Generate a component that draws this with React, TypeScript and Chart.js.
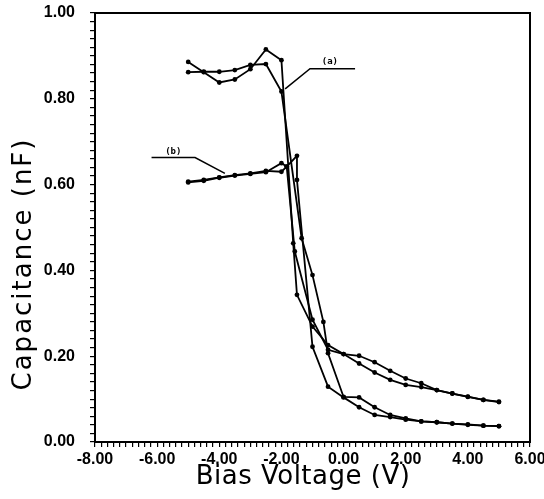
import React, { useEffect, useRef } from 'react';
import { Chart, registerables } from 'chart.js';
Chart.register(...registerables);

// Curve (a), two sweeps
const xA1 = [-5, -4.5, -4, -3.5, -3, -2.5, -2, -1.62, -1.5, -1, -0.5, 0, 0.5, 1, 1.5, 2, 2.5, 3, 3.5, 4, 4.5, 5];
const yA1 = [0.886, 0.862, 0.838, 0.845, 0.869, 0.915, 0.890, 0.463, 0.343, 0.269, 0.226, 0.205, 0.201, 0.186, 0.166, 0.148, 0.137, 0.121, 0.113, 0.106, 0.098, 0.093];
const xA2 = [-5, -4.5, -4, -3.5, -3, -2.5, -2, -1.35, -1, -0.65, -0.5, 0, 0.5, 1, 1.5, 2, 2.5, 3, 3.5, 4, 4.5, 5];
const yA2 = [0.862, 0.863, 0.863, 0.867, 0.879, 0.881, 0.817, 0.475, 0.389, 0.280, 0.207, 0.105, 0.104, 0.081, 0.063, 0.055, 0.048, 0.046, 0.043, 0.041, 0.038, 0.037];
// Curve (b), two sweeps
const xB1 = [-5, -4.5, -4, -3.5, -3, -2.5, -2, -1.83, -1.57, -1, -0.5, 0, 0.5, 1, 1.5, 2, 2.5, 3, 3.5, 4, 4.5, 5];
const yB1 = [0.605, 0.609, 0.616, 0.621, 0.625, 0.629, 0.650, 0.642, 0.444, 0.285, 0.215, 0.205, 0.183, 0.162, 0.145, 0.133, 0.128, 0.121, 0.113, 0.105, 0.098, 0.094];
const xB2 = [-5, -4.5, -4, -3.5, -3, -2.5, -2, -1.83, -1.5, -1.5, -1, -0.5, 0, 0.5, 1, 1.5, 2, 2.5, 3, 3.5, 4, 4.5, 5];
const yB2 = [0.607, 0.611, 0.617, 0.622, 0.626, 0.632, 0.630, 0.642, 0.667, 0.611, 0.222, 0.129, 0.104, 0.081, 0.063, 0.058, 0.052, 0.048, 0.046, 0.043, 0.040, 0.038, 0.037];

// Annotation leaders and labels
const leadAX = [0.37, -1.08, -1.88];
const leadAY = [0.870, 0.870, 0.823];
const leadBX = [-6.18, -4.78, -3.82];
const leadBY = [0.663, 0.663, 0.626];
const annTexts = ['(a)', '(b)'];
const annX = [-0.44, -5.48];
const annY = [0.886, 0.677];

const xTitle = 'Bias Voltage (V)';
const yTitle = 'Capacitance (nF)';

const xMin = -8, xMax = 6, xMinorStep = 0.2, xMajorStep = 2;
const yMin = 0, yMax = 1, yMinorStep = 0.02, yMajorStep = 0.2;

const isMultiple = (v: number, step: number) => Math.abs(v / step - Math.round(v / step)) < 1e-6;

export default function App() {
  const ref = useRef<HTMLCanvasElement>(null);
  useEffect(() => {
    document.body.style.margin = '0';
    const canvas = ref.current!;
    const toPts = (xs: number[], ys: number[]) => xs.map((x, i) => ({ x, y: ys[i] }));
    const curve = (label: string, xs: number[], ys: number[]) => ({
      label, data: toPts(xs, ys), showLine: true, borderColor: '#000', backgroundColor: '#000',
      borderWidth: 1.8, pointRadius: 2.4, pointHoverRadius: 2.4, pointBorderWidth: 0, tension: 0,
    });
    const leader = (label: string, xs: number[], ys: number[]) => ({
      label, data: toPts(xs, ys), showLine: true, borderColor: '#000', backgroundColor: '#000',
      borderWidth: 1.5, pointRadius: 0, pointHoverRadius: 0, tension: 0,
    });
    const framePlugin = {
      id: 'frame',
      afterDraw(chart: any) {
        const { ctx, chartArea: a } = chart;
        ctx.save();
        ctx.strokeStyle = '#000';
        ctx.lineWidth = 2;
        ctx.strokeRect(a.left, a.top, a.right - a.left, a.bottom - a.top);
        // axis titles
        ctx.fillStyle = '#000';
        ctx.font = '26px "DejaVu Sans", sans-serif';
        ctx.textAlign = 'center';
        ctx.textBaseline = 'middle';
        (ctx as any).letterSpacing = '0.5px';
        ctx.fillText(xTitle, 303, 477);
        (ctx as any).letterSpacing = '2px';
        ctx.translate(24, 264);
        ctx.rotate(-Math.PI / 2);
        ctx.fillText(yTitle, 0, 0);
        ctx.restore();
      },
    };
    const labelPlugin = {
      id: 'annLabels',
      afterDatasetsDraw(chart: any) {
        const { ctx } = chart;
        const xs = chart.scales.x, ys = chart.scales.y;
        ctx.save();
        ctx.fillStyle = '#000';
        ctx.font = 'bold 9px "DejaVu Sans Mono"';
        ctx.textAlign = 'center';
        ctx.textBaseline = 'middle';
        annTexts.forEach((t, i) => ctx.fillText(t, xs.getPixelForValue(annX[i]), ys.getPixelForValue(annY[i])));
        ctx.restore();
      },
    };
    const tickFont = { family: '"Liberation Sans", Arial, sans-serif', size: 16, weight: 'bold' as const };
    const chart = new Chart(canvas, {
      type: 'scatter',
      data: {
        datasets: [
          curve('(a) sweep 1', xA1, yA1),
          curve('(a) sweep 2', xA2, yA2),
          curve('(b) sweep 1', xB1, yB1),
          curve('(b) sweep 2', xB2, yB2),
          leader('(a) leader', leadAX, leadAY),
          leader('(b) leader', leadBX, leadBY),
        ] as any,
      },
      options: {
        animation: false,
        responsive: false,
        maintainAspectRatio: false,
        layout: { padding: { top: 13, right: 14, left: 0, bottom: 0 } },
        plugins: { legend: { display: false }, tooltip: { enabled: false } },
        scales: {
          x: {
            type: 'linear', min: xMin, max: xMax,
            ticks: {
              stepSize: xMinorStep, autoSkip: false, maxRotation: 0, minRotation: 0,
              color: '#000', font: tickFont, padding: 3,
              callback: (v: any) => (isMultiple(Number(v), xMajorStep) ? Number(v).toFixed(2) : ''),
            },
            grid: { drawOnChartArea: false, tickLength: 5, color: '#000', lineWidth: 1.2 },
            border: { color: '#000', width: 2 },
            afterFit: (s: any) => { s.height = 57; s.paddingLeft = 0; s.paddingRight = 0; },
          },
          y: {
            type: 'linear', min: yMin, max: yMax,
            ticks: {
              stepSize: yMinorStep, autoSkip: false, color: '#000', font: tickFont, padding: 15,
              callback: (v: any) => (isMultiple(Number(v), yMajorStep) ? Number(v).toFixed(2) : ''),
            },
            grid: { drawOnChartArea: false, tickLength: 5, color: '#000', lineWidth: 1.2 },
            border: { color: '#000', width: 2 },
            afterFit: (s: any) => { s.width = 95; s.paddingTop = 0; s.paddingBottom = 0; },
          },
        },
      } as any,
      plugins: [framePlugin, labelPlugin],
    });
    return () => chart.destroy();
  }, []);
  return (
    <div style={{ width: 544, height: 499, position: 'relative', background: '#fff' }}>
      <canvas ref={ref} width={544} height={499} style={{ display: 'block' }} />
    </div>
  );
}
